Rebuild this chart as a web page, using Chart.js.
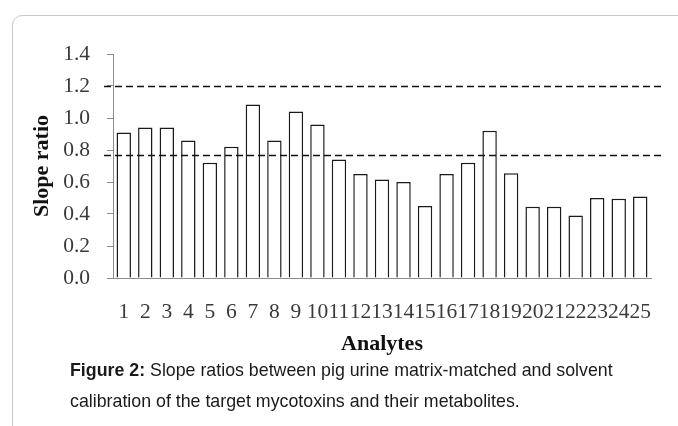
<!DOCTYPE html>
<html>
<head>
<meta charset="utf-8">
<script src="https://cdn.jsdelivr.net/npm/chart.js@4.4.1/dist/chart.umd.min.js"></script>
<style>
  html, body { margin: 0; padding: 0; background: #fff; }
  body { width: 678px; height: 426px; overflow: hidden; position: relative; }
  .frame {
    position: absolute; left: 12px; top: 15px; width: 720px; height: 460px;
    border: 1.5px solid #c8c8c8; border-radius: 10px; box-sizing: border-box;
  }
  .chart-wrap { position: absolute; left: 0; top: 0; width: 678px; height: 370px; }
  .caption {
    position: absolute; left: 70px; top: 355px; width: 565px;
    font-family: "Liberation Sans", Arial, sans-serif; font-size: 17.8px;
    line-height: 31px; color: #1a1a1a;
  }
  .caption b { font-weight: bold; }
</style>
</head>
<body>
<div class="frame"></div>
<div class="chart-wrap"><canvas id="slopeChart"></canvas></div>
<div class="caption"><b>Figure 2:</b> Slope ratios between pig urine matrix-matched and solvent calibration of the target mycotoxins and their metabolites.</div>

<script>
// Data
const analytes = ['1', '2', '3', '4', '5', '6', '7', '8', '9', '10', '11', '12', '13',
    '14', '15', '16', '17', '18', '19', '20', '21', '22', '23', '24', '25'];
const slopeRatios = [0.91, 0.94, 0.94, 0.86, 0.72, 0.82, 1.085, 0.86, 1.04, 0.96, 0.74, 0.65, 0.615,
    0.60, 0.45, 0.65, 0.72, 0.92, 0.655, 0.445, 0.445, 0.39, 0.50, 0.495, 0.51];
const thresholds = [1.2, 0.77];
const yTicks = [0, 0.2, 0.4, 0.6, 0.8, 1.0, 1.2, 1.4];

const serif = '"Liberation Serif", "Times New Roman", serif';

// Dashed reference lines
const thresholdLines = {
    id: 'thresholdLines',
    afterDatasetsDraw(chart) {
        const { ctx, chartArea, scales } = chart;
        ctx.save();
        ctx.strokeStyle = '#111';
        ctx.lineWidth = 1.5;
        ctx.setLineDash([7, 4]);
        thresholds.forEach(v => {
            const y = Math.round(scales.y.getPixelForValue(v)) + 0.5;
            ctx.beginPath();
            ctx.moveTo(chartArea.left - 9, y);
            ctx.lineTo(chartArea.right + 12, y);
            ctx.stroke();
        });
        ctx.restore();
    }
};

const ctx = document.getElementById('slopeChart').getContext('2d');
new Chart(ctx, {
    type: 'bar',
    data: {
        labels: analytes,
        datasets: [{
            data: slopeRatios,
            backgroundColor: '#ffffff',
            borderColor: '#1a1a1a',
            borderWidth: 1.5,
            barPercentage: 0.67,
            categoryPercentage: 1,
        }],
    },
    options: {
        responsive: true,
        maintainAspectRatio: false,
        animation: false,
        layout: { padding: { top: 54, right: 27, left: 0, bottom: 0 } },
        plugins: {
            legend: { display: false },
            tooltip: { enabled: false },
        },
        scales: {
            x: {
                grid: { display: false, drawTicks: false },
                border: { display: true, color: '#8c8c8c', width: 1 },
                ticks: {
                    autoSkip: false, maxRotation: 0, minRotation: 0, padding: 21,
                    color: '#3a3a3a', font: { family: serif, size: 21.5 },
                },
                title: {
                    display: true, text: 'Analytes', color: '#111',
                    font: { family: serif, size: 22, weight: 'bold' },
                    padding: { top: 0, bottom: 12 },
                },
                afterFit(scale) { scale.height = 92; },
            },
            y: {
                min: 0, max: 1.4,
                afterBuildTicks(scale) { scale.ticks = yTicks.map(v => ({ value: v })); },
                grid: { drawOnChartArea: false, drawTicks: true, tickLength: 6, color: '#8c8c8c' },
                border: { display: true, color: '#8c8c8c', width: 1 },
                ticks: {
                    padding: 17, color: '#3a3a3a',
                    font: { family: serif, size: 21.5 },
                    callback: v => Number(v).toFixed(1),
                },
                title: {
                    display: true, text: 'Slope ratio', color: '#111',
                    font: { family: serif, size: 22, weight: 'bold' },
                    padding: { top: 29, bottom: 0 },
                },
                afterFit(scale) { scale.width = 113; },
            },
        },
    },
    plugins: [thresholdLines],
});
</script>
</body>
</html>
